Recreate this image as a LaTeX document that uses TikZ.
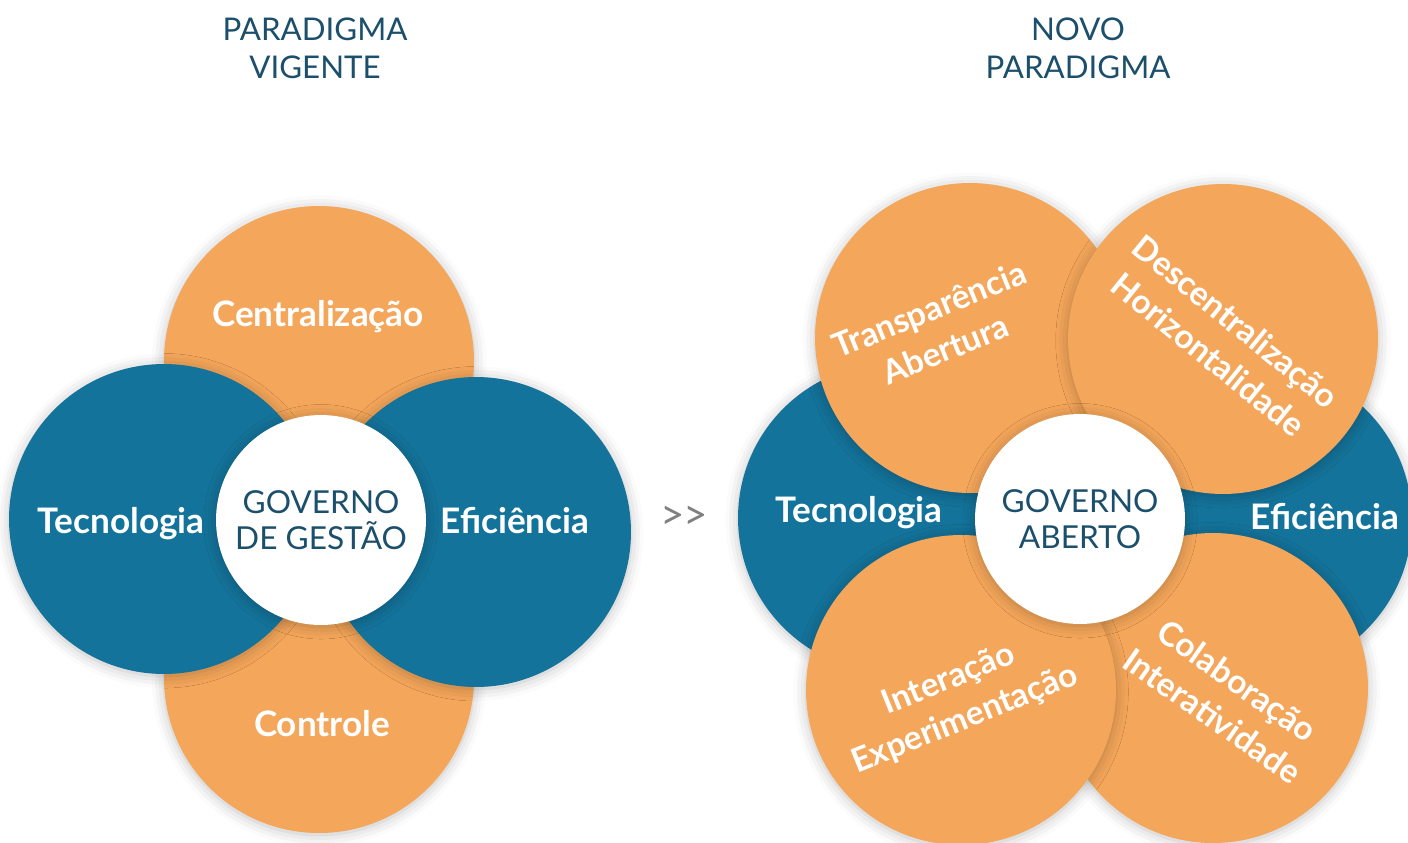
\documentclass[tikz,border=0pt]{standalone}
\usepackage{fontspec}
\setmainfont{Lato}
\usetikzlibrary{positioning,shadows.blur}
\definecolor{laranja}{HTML}{F4A65A}
\definecolor{azul}{HTML}{14739B}
\definecolor{tinta}{HTML}{1B4F6B}

\begin{document}
\begin{tikzpicture}[x=0.02cm,y=-0.02cm,
    bola/.style={circle,inner sep=0pt,minimum size=6.2cm,
        blur shadow={shadow xshift=0pt,shadow yshift=-1pt,shadow blur radius=7pt,shadow opacity=25}},
    miolo/.style={bola,fill=white,minimum size=4.2cm,text=tinta,align=center,
        font=\fontsize{18}{20.5}\selectfont},
    rotulo/.style={text=white,align=center,inner sep=1pt,font=\bfseries\fontsize{20}{23}\selectfont},
    girado/.style={rotulo,rotate=#1,font=\bfseries\fontsize{19}{24.5}\selectfont},
    titulo/.style={text=tinta,align=center,font=\fontsize{17.8}{21.5}\selectfont}]

            \useasboundingbox (0,0) rectangle (1408,842);

            % paradigma vigente
            \node[titulo] (pv) at (315,48) {PARADIGMA\\VIGENTE};
            \foreach \nome/\x/\y in {cen/319/361,con/319/678} {
                \node[bola,fill=laranja] (\nome) at (\x,\y) {};
            }
            \foreach \nome/\x/\y in {tec/164/519,efi/476/532} {
                \node[bola,fill=azul] (\nome) at (\x,\y) {};
            }
            \node[miolo] (gg) at (321,520) {GOVERNO\\DE GESTÃO};
            \node[rotulo] (tcen) at (318,317) {Centralização};
            \node[rotulo] (tcon) at (322,724) {Controle};
            \node[rotulo] (ttec) at (121,524) {Tecnologia};
            \node[rotulo] (tefi) at (515,521) {Eficiência};

            \node[text=gray,font=\fontsize{24}{26}\selectfont] (seta) at (684,518) {>\kern-1pt>};

            % novo paradigma
            \node[titulo] (np) at (1078,48) {NOVO\\PARADIGMA};
            \foreach \nome/\x/\y in {tec2/893/518,efi2/1257/520} {
                \node[bola,fill=azul] (\nome) at (\x,\y) {};
            }
            \foreach \nome/\x/\y in {col/1213/688,int/961/690,tra/970/338,des/1223/339} {
                \node[bola,fill=laranja] (\nome) at (\x,\y) {};
            }
            \node[miolo] (ga) at (1080,519) {GOVERNO\\ABERTO};
            \node[rotulo] (ttec2) at (859,513) {Tecnologia};
            \node[rotulo] (tefi2) at (1325,517) {Eficiência};
            \node[girado=22] (ttra) at (937,329) {Transparência\\Abertura};
            \node[girado=-39] (tdes) at (1222,338) {Descentralização\\Horizontalidade};
            \node[girado=22] (tint) at (957,700) {Interação\\Experimentação};
            \node[girado=-35] (tcol) at (1225,698) {Colaboração\\Interatividade};

        \end{tikzpicture}
\end{document}
